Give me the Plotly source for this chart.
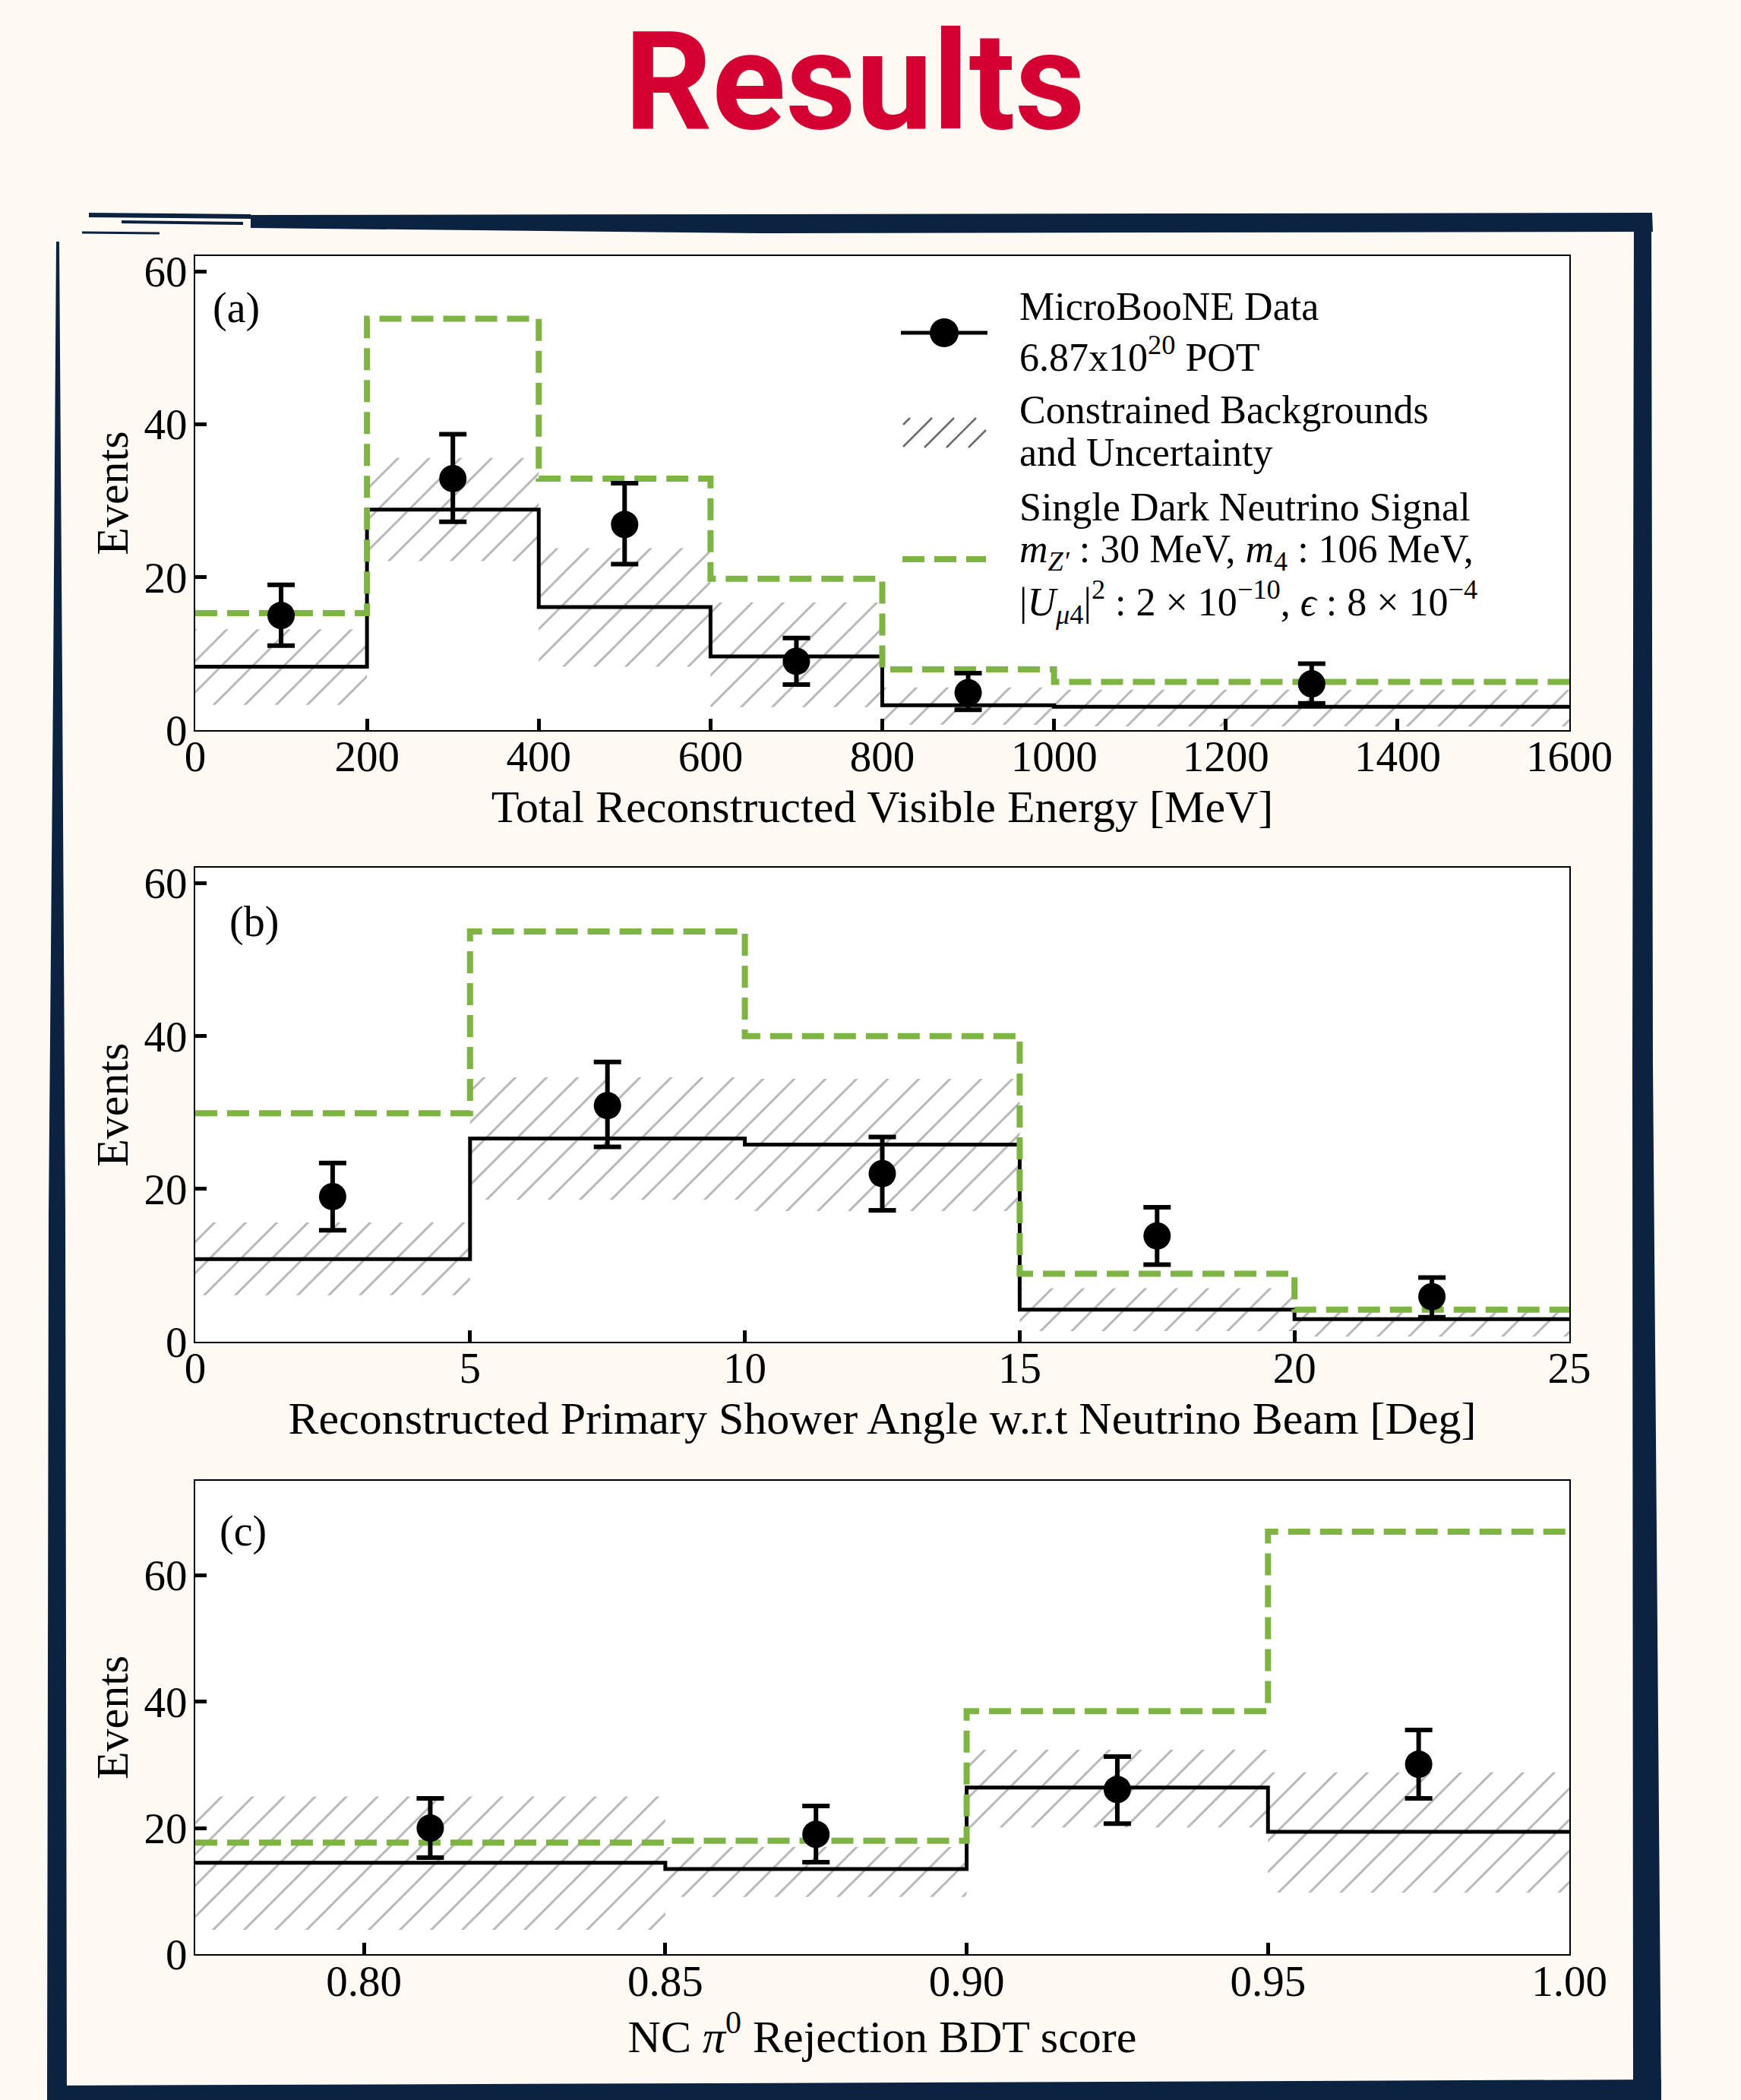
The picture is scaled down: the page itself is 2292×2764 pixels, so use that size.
import plotly.graph_objects as go

# ---------------- data ----------------
# Panel (a): Total reconstructed visible energy [MeV]
a_edges = [0, 200, 400, 600, 800, 1000, 1600]
a_bkg = [8.3, 28.85, 16.1, 9.65, 3.25, 3.05]
a_bkg_lo = [3.3, 22.1, 8.3, 3.0, 0.7, 0.5]
a_bkg_hi = [13.2, 35.6, 23.8, 16.7, 5.6, 5.3]
a_sig = [15.3, 53.8, 32.9, 19.8, 7.95, 6.3]
a_data_x = [100, 300, 500, 700, 900, 1300]
a_data = [15.0, 32.9, 26.9, 9.0, 4.9, 6.05]
a_data_lo = [11.05, 27.25, 21.7, 5.95, 2.65, 3.5]
a_data_hi = [19.0, 38.7, 32.3, 12.05, 7.45, 8.7]

# Panel (b): Reconstructed primary shower angle [Deg]
b_edges = [0, 5, 10, 15, 20, 25]
b_bkg = [10.8, 26.6, 25.8, 4.2, 2.95]
b_bkg_lo = [6.1, 18.6, 17.1, 1.4, 0.66]
b_bkg_hi = [15.6, 34.6, 34.4, 7.0, 4.6]
b_sig = [29.9, 53.7, 40.0, 8.9, 4.2]
b_data_x = [2.5, 7.5, 12.5, 17.5, 22.5]
b_data = [19.0, 30.9, 22.0, 13.85, 5.9]
b_data_lo = [14.6, 25.5, 17.2, 10.1, 3.2]
b_data_hi = [23.4, 36.6, 26.8, 17.6, 8.4]

# Panel (c): NC pi0 rejection BDT score
c_edges = [0.772, 0.85, 0.90, 0.95, 1.00]
c_bkg = [14.5, 13.5, 26.4, 19.4]
c_bkg_lo = [3.9, 9.1, 20.1, 9.8]
c_bkg_hi = [25.0, 17.0, 32.4, 28.8]
c_sig = [17.7, 18.0, 38.5, 66.9]
c_data_x = [0.811, 0.875, 0.925, 0.975]
c_data = [20.0, 19.0, 26.1, 30.1]
c_data_lo = [15.3, 14.6, 20.7, 24.7]
c_data_hi = [24.7, 23.5, 31.3, 35.5]

a_xticks = [0, 200, 400, 600, 800, 1000, 1200, 1400, 1600]
b_xticks = [0, 5, 10, 15, 20, 25]
c_xticks = [0.80, 0.85, 0.90, 0.95, 1.00]
y_ticks = [0, 20, 40, 60]

# ---------------- style ----------------
W, H = 2292, 2764
BG = "#FEF9F3"
NAVY = "#0B2240"
GREEN = "#7DB443"
HATCH = "#6a6a6a"
SERIF = "Liberation Serif"


def X(px):
    return px / W


def Y(py):
    return 1 - py / H


fig = go.Figure()

panels = [
    dict(ax="", edges=a_edges, bkg=a_bkg, lo=a_bkg_lo, hi=a_bkg_hi, sig=a_sig,
         dx=a_data_x, d=a_data, dlo=a_data_lo, dhi=a_data_hi),
    dict(ax="2", edges=b_edges, bkg=b_bkg, lo=b_bkg_lo, hi=b_bkg_hi, sig=b_sig,
         dx=b_data_x, d=b_data, dlo=b_data_lo, dhi=b_data_hi),
    dict(ax="3", edges=c_edges, bkg=c_bkg, lo=c_bkg_lo, hi=c_bkg_hi, sig=c_sig,
         dx=c_data_x, d=c_data, dlo=c_data_lo, dhi=c_data_hi),
]

for p in panels:
    xa, ya = "x" + p["ax"], "y" + p["ax"]
    e = p["edges"]
    centers = [(e[i] + e[i + 1]) / 2 for i in range(len(e) - 1)]
    widths = [e[i + 1] - e[i] for i in range(len(e) - 1)]
    # hatched uncertainty band
    fig.add_trace(go.Bar(
        x=centers, width=widths, base=p["lo"],
        y=[h - l for h, l in zip(p["hi"], p["lo"])],
        marker=dict(color="rgba(0,0,0,0)", line=dict(width=0),
                    pattern=dict(shape="/", fgcolor=HATCH, bgcolor="rgba(0,0,0,0)",
                                 size=29, solidity=0.1, fillmode="overlay")),
        xaxis=xa, yaxis=ya, showlegend=False, hoverinfo="skip"))
    # constrained background step
    fig.add_trace(go.Scatter(
        x=e, y=p["bkg"] + [p["bkg"][-1]], mode="lines", line_shape="hv",
        line=dict(color="black", width=5), xaxis=xa, yaxis=ya, showlegend=False))
    # signal step (dashed green)
    fig.add_trace(go.Scatter(
        x=e, y=p["sig"] + [p["sig"][-1]], mode="lines", line_shape="hv",
        line=dict(color=GREEN, width=8, dash="29px,13px"),
        xaxis=xa, yaxis=ya, showlegend=False))
    # data points
    fig.add_trace(go.Scatter(
        x=p["dx"], y=p["d"], mode="markers",
        marker=dict(color="black", size=36),
        error_y=dict(type="data", symmetric=False,
                     array=[h - v for h, v in zip(p["dhi"], p["d"])],
                     arrayminus=[v - l for v, l in zip(p["d"], p["dlo"])],
                     color="black", thickness=6, width=18),
        xaxis=xa, yaxis=ya, showlegend=False))

x_dom = [X(257), X(2066)]
doms = [[Y(961), Y(337)], [Y(1766), Y(1142.4)], [Y(2572.4), Y(1948.5)]]

tickfont = dict(family=SERIF, size=57, color="black")
titlefont = dict(family=SERIF, size=60, color="black")

axis_common = dict(showline=True, mirror=True, linecolor="black", linewidth=2,
                   ticks="inside", ticklen=15, tickwidth=5, tickcolor="black",
                   showgrid=False, zeroline=False, automargin=False,
                   tickfont=tickfont)

x_titles = ["Total Reconstructed Visible Energy [MeV]",
            "Reconstructed Primary Shower Angle w.r.t Neutrino Beam [Deg]",
            "NC <i>π</i><sup>0</sup> Rejection BDT score"]
x_ranges = [[a_edges[0], a_edges[-1]], [b_edges[0], b_edges[-1]], [c_edges[0], c_edges[-1]]]
x_tickvals = [a_xticks, b_xticks, c_xticks]
x_ticktext = [[str(v) for v in a_xticks], [str(v) for v in b_xticks],
              ["%.2f" % v for v in c_xticks]]
y_ranges = [[0, 62], [0, 62], [0, 75]]

layout_axes = {}
for i in range(3):
    s = "" if i == 0 else str(i + 1)
    layout_axes["xaxis" + s] = dict(
        axis_common, domain=x_dom, anchor="y" + s, range=x_ranges[i],
        tickmode="array", tickvals=x_tickvals[i], ticktext=x_ticktext[i],
        ticklabelstandoff=-16,
        title=dict(text=x_titles[i], font=titlefont, standoff=14))
    layout_axes["yaxis" + s] = dict(
        axis_common, domain=doms[i], anchor="x" + s, range=y_ranges[i],
        tickmode="array", tickvals=y_ticks, ticklabelstandoff=-3,
        title=dict(text="Events", font=titlefont, standoff=2))

fig.update_layout(**layout_axes)

# ---------------- annotations ----------------
ann = []
ann.append(dict(text="<b>Results</b>", x=X(1125), y=Y(108), xref="paper", yref="paper",
                xanchor="center", yanchor="middle", showarrow=False,
                font=dict(family="Roboto", size=180, color="#D50032")))

labels = [("(a)", 0.0116, 0.891, "x domain", "y domain"),
          ("(b)", 0.0238, 0.886, "x2 domain", "y2 domain"),
          ("(c)", 0.0166, 0.893, "x3 domain", "y3 domain")]
for t, xx, yy, xr, yr in labels:
    ann.append(dict(text=t, x=xx, y=yy, xref=xr, yref=yr, xanchor="left",
                    yanchor="middle", showarrow=False,
                    font=dict(family=SERIF, size=56, color="black")))

legend_lines = [
    ("MicroBooNE Data", 403),
    ("6.87x10<sup>20</sup> POT", 466),
    ("Constrained Backgrounds", 539),
    ("and Uncertainty", 596),
    ("Single Dark Neutrino Signal", 668),
    ("<i>m</i><sub><i>Z′</i></sub> : 30 MeV, <i>m</i><sub>4</sub> : 106 MeV,", 727),
    ("|<i>U</i><sub><i>μ</i>4</sub>|<sup>2</sup> : 2 × 10<sup>−10</sup>, <i>ϵ</i> : 8 × 10<sup>−4</sup>", 792),
]
for t, py in legend_lines:
    ann.append(dict(text=t, x=X(1340), y=Y(py), xref="paper", yref="paper",
                    xanchor="left", yanchor="middle", showarrow=False,
                    font=dict(family=SERIF, size=52, color="black")))

# ---------------- shapes (legend keys + frame) ----------------
shapes = []
# data key
shapes.append(dict(type="line", xref="paper", yref="paper", x0=X(1186), x1=X(1300),
                   y0=Y(438), y1=Y(438), line=dict(color="black", width=5)))
shapes.append(dict(type="circle", xref="paper", yref="paper", x0=X(1224), x1=X(1262),
                   y0=Y(419), y1=Y(457), fillcolor="black", line=dict(width=0)))
# hatch key
kx0, kx1, ky0, ky1 = 1189, 1298, 550, 589
hgt = ky1 - ky0
for xb in range(kx0 - 30, kx1 + 5, 29):
    xa0, ya0 = xb, ky1
    xa1, ya1 = xb + hgt, ky0
    if xa0 < kx0:
        d = kx0 - xa0
        xa0, ya0 = kx0, ky1 - d
    if xa1 > kx1:
        d = xa1 - kx1
        xa1, ya1 = kx1, ky0 + d
    if xa1 <= xa0:
        continue
    shapes.append(dict(type="line", xref="paper", yref="paper", x0=X(xa0), y0=Y(ya0),
                       x1=X(xa1), y1=Y(ya1), line=dict(color=HATCH, width=2.5)))
# signal key
shapes.append(dict(type="line", xref="paper", yref="paper", x0=X(1188), x1=X(1298),
                   y0=Y(736), y1=Y(736), line=dict(color=GREEN, width=8, dash="29px,13px")))


# hand-drawn navy frame
def poly_path(pts):
    return "M " + " L ".join("%f,%f" % (X(a), Y(b)) for a, b in pts) + " Z"


# top band
shapes.append(dict(type="path", xref="paper", yref="paper", line=dict(width=0),
                   fillcolor=NAVY,
                   path=poly_path([(330, 283), (2175, 280), (2176, 305), (1000, 307),
                                   (330, 300)])))
# right band
shapes.append(dict(type="path", xref="paper", yref="paper", line=dict(width=0),
                   fillcolor=NAVY,
                   path=poly_path([(2151, 285), (2174, 280), (2176, 1400), (2187, 2764),
                                   (2150, 2764), (2149, 1400)])))
# left band (thin at top, thick at bottom)
shapes.append(dict(type="path", xref="paper", yref="paper", line=dict(width=0),
                   fillcolor=NAVY,
                   path=poly_path([(74, 318), (78, 318), (82, 900), (86, 1600),
                                   (88, 2764), (62, 2764), (64, 1600), (70, 900)])))
# bottom band
shapes.append(dict(type="path", xref="paper", yref="paper", line=dict(width=0),
                   fillcolor=NAVY,
                   path=poly_path([(62, 2745), (1200, 2741), (2187, 2737), (2187, 2764),
                                   (62, 2764)])))
# brush streaks (fragmented top-left)
for (a, b, c, d, w) in [(117, 283, 330, 285, 6), (108, 306, 210, 307, 3),
                        (160, 292, 320, 294, 4), (1000, 288, 1800, 286, 4)]:
    shapes.append(dict(type="line", xref="paper", yref="paper", x0=X(a), y0=Y(b),
                       x1=X(c), y1=Y(d), line=dict(color=NAVY, width=w)))

fig.update_layout(
    width=W, height=H, margin=dict(l=0, r=0, t=0, b=0),
    paper_bgcolor=BG, plot_bgcolor="white", barmode="overlay",
    showlegend=False, annotations=ann, shapes=shapes,
    font=dict(family=SERIF, color="black"),
)

fig.write_html("out.html", config={"displayModeBar": False},
               post_script="document.body.style.margin='0';")
